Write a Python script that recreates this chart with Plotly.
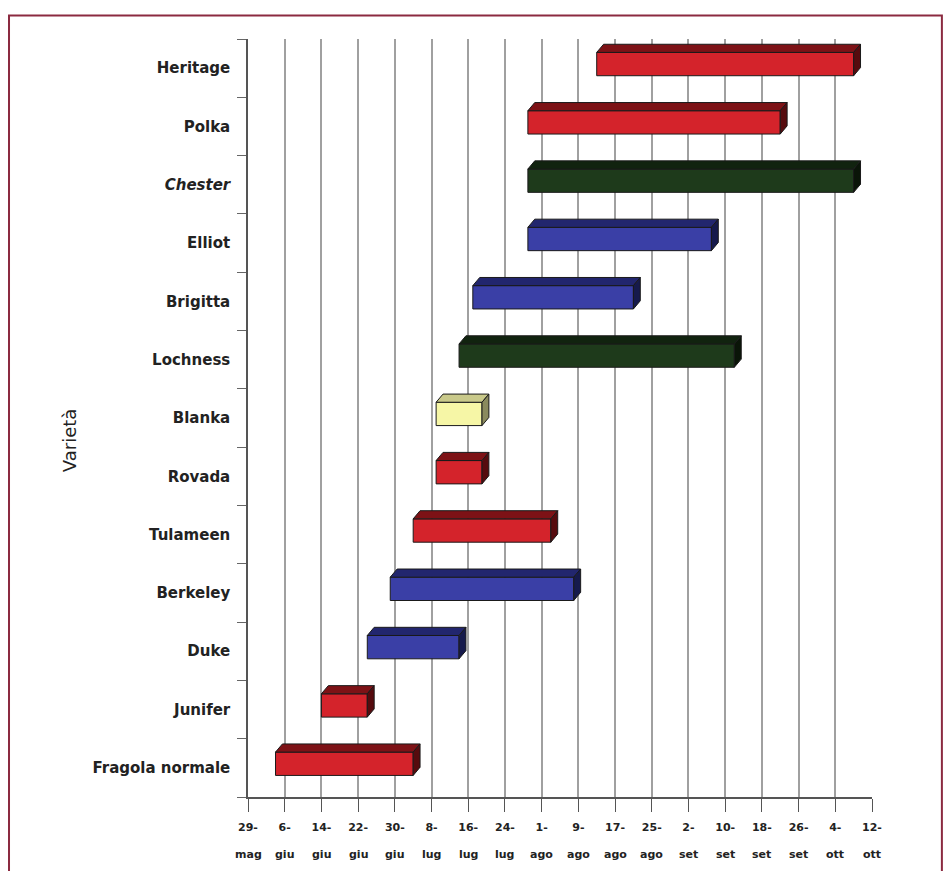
import plotly.graph_objects as go

# ---- data ----
varieties = ["Fragola normale", "Junifer", "Duke", "Berkeley", "Tulameen", "Rovada",
             "Blanka", "Lochness", "Brigitta", "Elliot", "<i>Chester</i>", "Polka", "Heritage"]
# days counted from 29 May
start_day = [6, 16, 26, 31, 36, 41, 41, 46, 49, 61, 61, 61, 76]
end_day = [36, 26, 46, 71, 66, 51, 51, 106, 84, 101, 132, 116, 132]
color_group = ["red", "red", "blue", "blue", "red", "red", "yellow", "green", "blue",
               "blue", "green", "red", "red"]

tick_days = [0, 8, 16, 24, 32, 40, 48, 56, 64, 72, 80, 88, 96, 104, 112, 120, 128, 136]
tick_day_labels = ["29-", "6-", "14-", "22-", "30-", "8-", "16-", "24-", "1-", "9-",
                   "17-", "25-", "2-", "10-", "18-", "26-", "4-", "12-"]
tick_month_labels = ["mag", "giu", "giu", "giu", "giu", "lug", "lug", "lug", "ago", "ago",
                     "ago", "ago", "set", "set", "set", "set", "ott", "ott"]

# ---- styles ----
palette = {
    "red": ("#d4232b", "#7d1216", "#560b0e"),
    "blue": ("#3a3fa6", "#22266e", "#161a4c"),
    "green": ("#1e3a1b", "#11230f", "#0a1508"),
    "yellow": ("#f6f6a6", "#c9c98a", "#8a8a5e"),
}
DX = 1.5     # 3D depth in days
DY = 0.14    # 3D depth in category units
OFF = 0.07   # front face vertical offset
H = 0.2      # front face half height
FONT = "DejaVu Sans"

fig = go.Figure()

for i, (s, e, g) in enumerate(zip(start_day, end_day, color_group)):
    face, top, side = palette[g]
    c = i + OFF
    fig.add_trace(go.Bar(
        y=[c], x=[e - s], base=[s], orientation="h", width=2 * H,
        marker=dict(color=face, line=dict(color="#1a1a1a", width=1)),
        hoverinfo="skip", showlegend=False))
    # top face
    fig.add_trace(go.Scatter(
        x=[s, e, e + DX, s + DX, s], y=[c + H, c + H, c + H + DY, c + H + DY, c + H],
        mode="lines", fill="toself", fillcolor=top,
        line=dict(color="#1a1a1a", width=1), hoverinfo="skip", showlegend=False))
    # side face
    fig.add_trace(go.Scatter(
        x=[e, e + DX, e + DX, e, e], y=[c - H, c - H + DY, c + H + DY, c + H, c - H],
        mode="lines", fill="toself", fillcolor=side,
        line=dict(color="#1a1a1a", width=1), hoverinfo="skip", showlegend=False))

# month labels as second tick-label row
for d, m in zip(tick_days, tick_month_labels):
    fig.add_annotation(x=d, y=-0.0765, xref="x", yref="paper", text=m, showarrow=False,
                       xanchor="center", yanchor="middle",
                       font=dict(family=FONT, size=11, color="#222", weight="bold"))

# y axis title
fig.add_annotation(x=-0.305, y=0.471, xref="paper", yref="paper", text="Varietà",
                   textangle=-90, showarrow=False,
                   font=dict(family=FONT, size=18, color="#222"))

# outer frame
fig.add_shape(type="rect", xref="paper", yref="paper",
              x0=-0.383, x1=1.112, y0=-0.11, y1=1.031,
              line=dict(color="#8b2a40", width=2), fillcolor="rgba(0,0,0,0)", layer="below")

fig.update_layout(
    width=951, height=871,
    margin=dict(l=248, r=79, t=39, b=74),
    paper_bgcolor="white", plot_bgcolor="white",
    barmode="overlay",
    xaxis=dict(range=[0, 136], tickvals=tick_days, ticktext=tick_day_labels,
               showgrid=True, gridcolor="#a0a0a0", gridwidth=1.5,
               ticks="outside", ticklen=13, tickcolor="#555", tickwidth=1.2,
               showline=True, linecolor="#555", linewidth=1.5,
               ticklabelstandoff=6,
               tickfont=dict(family=FONT, size=11, color="#222", weight="bold"),
               zeroline=False),
    yaxis=dict(range=[-0.5, 12.5], tickvals=list(range(len(varieties))), ticktext=varieties,
               ticks="", showgrid=False, zeroline=False,
               showline=True, linecolor="#555", linewidth=1.5,
               ticklabelstandoff=13,
               tickfont=dict(family=FONT, size=15, color="#222", weight="bold"),
               minor=dict(tick0=0.5, dtick=1, ticks="outside", ticklen=9,
                          tickcolor="#666", tickwidth=1.2, showgrid=False)),
)

fig.write_html("out.html")
